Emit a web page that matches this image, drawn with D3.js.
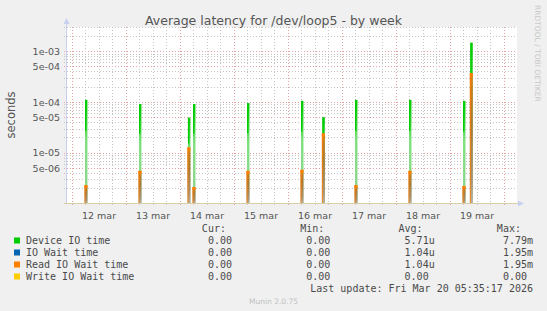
<!DOCTYPE html>
<html>
<head>
<meta charset="utf-8">
<script src="https://cdn.jsdelivr.net/npm/d3@7"></script>
<style>
    body { margin: 0; background: #f0f0f0; }
    svg { display: block; }
</style>
</head>
<body>
<div id="chart-area"></div>
<script>
/*
*    latency by week
*/

// spikes: time of each burst and the series values there (seconds)
var spikeTimes = ["2026-03-12 06:00", "2026-03-13 06:00", "2026-03-14 03:45", "2026-03-14 06:00",
    "2026-03-15 06:00", "2026-03-16 06:00", "2026-03-16 15:30", "2026-03-17 06:00",
    "2026-03-18 06:00", "2026-03-19 06:00", "2026-03-19 09:15"];
var deviceIO    = [1.1e-4, 9.1e-5, 4.9e-5, 9.1e-5, 9.5e-5, 1.05e-4, 5.0e-5, 1.1e-4, 1.1e-4, 1.05e-4, 1.47e-3];
var ioWait      = [0, 0, 0, 0, 0, 0, 0, 0, 0, 0, 0];
var readIOWait  = [2.3e-6, 4.4e-6, 1.27e-5, 2.1e-6, 4.4e-6, 4.6e-6, 2.4e-5, 2.3e-6, 4.4e-6, 2.2e-6, 3.7e-4];
var writeIOWait = [0, 0, 0, 0, 0, 0, 0, 0, 0, 0, 0];

var timeStart = "2026-03-11 22:00";
var timeEnd = "2026-03-20 05:35";
var yMin = 1e-6, yMax = 3e-3;
var yTicks = [1e-3, 5e-4, 1e-4, 5e-5, 1e-5, 5e-6];

var legendNames  = ["Device IO time", "IO Wait time", "Read IO Wait time", "Write IO Wait time"];
var legendColors = ["#00cc00", "#0066b3", "#ff8000", "#ffcc00"];
var curVals = ["0.00", "0.00", "0.00", "0.00"];
var minVals = ["0.00", "0.00", "0.00", "0.00"];
var avgVals = ["5.71u", "1.04u", "1.04u", "0.00"];
var maxVals = ["7.79m", "1.95m", "1.95m", "0.00"];
var lastUpdate = "Last update: Fri Mar 20 05:35:17 2026";

var W = 547, H = 311;
var pLeft = 67, pRight = 516.1, pTop = 27, pBottom = 203.5;

var parseTime = d3.timeParse("%Y-%m-%d %H:%M");

var svg = d3.select("#chart-area").append("svg")
    .attr("width", W)
    .attr("height", H)
    .style("font-family", "'DejaVu Sans', sans-serif");

svg.append("rect").attr("width", W).attr("height", H).attr("fill", "#f0f0f0");

var x = d3.scaleTime()
    .domain([parseTime(timeStart), parseTime(timeEnd)])
    .range([pLeft, pRight]);

var y = d3.scaleLog()
    .domain([yMin, yMax])
    .range([pBottom, pTop])
    .clamp(true);

// gradients for the spikes
var defs = svg.append("defs");
var gGreen = defs.append("linearGradient").attr("id", "gGreen")
    .attr("x1", 0).attr("y1", 0).attr("x2", 0).attr("y2", 1);
[[0, "#00cc00"], [0.15, "#30d030"], [0.4, "#80e080"], [0.75, "#8ad88a"], [1, "#9cc49c"]].forEach((s) => {
    gGreen.append("stop").attr("offset", s[0]).attr("stop-color", s[1]);
});
var gOrange = defs.append("linearGradient").attr("id", "gOrange")
    .attr("x1", 0).attr("y1", 0).attr("x2", 0).attr("y2", 1);
[[0, "#f08010"], [0.12, "#c87c20"], [0.4, "#a87a38"], [0.8, "#a89070"], [1, "#b8b0a4"]].forEach((s) => {
    gOrange.append("stop").attr("offset", s[0]).attr("stop-color", s[1]);
});

// plot background
svg.append("rect")
    .attr("x", pLeft).attr("y", pTop)
    .attr("width", 517 - pLeft).attr("height", pBottom - pTop)
    .attr("fill", "white");

// horizontal grid
var hLines = [];
[-6, -5, -4, -3].forEach((e) => {
    for (var m = 1; m <= 9; m++) {
        var v = m * Math.pow(10, e);
        if (v > yMin * 1.01 && v <= yMax * 1.001) hLines.push({ v: v, major: (m == 1 || m == 5) });
    }
});
svg.append("g").selectAll("line")
    .data(hLines)
    .enter().append("line")
        .attr("x1", 64).attr("x2", 517)
        .attr("y1", (d) => Math.round(y(d.v)) + 0.5)
        .attr("y2", (d) => Math.round(y(d.v)) + 0.5)
        .attr("stroke", (d) => d.major ? "#e6a2a2" : "#c4c4c4")
        .attr("stroke-dasharray", "1,2");

// vertical grid
var vLines = d3.timeHour.every(6).range(x.domain()[0], x.domain()[1]);
svg.append("g").selectAll("line")
    .data(vLines)
    .enter().append("line")
        .attr("x1", (d) => Math.round(x(d)) + 0.5)
        .attr("x2", (d) => Math.round(x(d)) + 0.5)
        .attr("y1", pTop).attr("y2", 206)
        .attr("stroke", (d) => d.getHours() == 0 ? "#e6a2a2" : "#c4c4c4")
        .attr("stroke-dasharray", "1,2");

// spikes
var spikes = spikeTimes.map((t, i) => ({
    t: parseTime(t), dev: deviceIO[i], io: ioWait[i], rd: readIOWait[i], wr: writeIOWait[i]
}));
var spikeW = (d) => x(d3.timeMinute.offset(d.t, 65)) - x(d.t);

var sg = svg.append("g");
sg.selectAll(".dev")
    .data(spikes)
    .enter().append("rect")
        .attr("class", "dev")
        .attr("x", (d) => x(d.t))
        .attr("y", (d) => y(d.dev))
        .attr("width", spikeW)
        .attr("height", (d) => pBottom - y(d.dev))
        .attr("fill", "url(#gGreen)");
sg.selectAll(".devEdge")
    .data(spikes)
    .enter().append("rect")
        .attr("class", "devEdge")
        .attr("x", (d) => x(d.t))
        .attr("y", (d) => y(d.dev))
        .attr("width", 1.3)
        .attr("height", (d) => (pBottom - y(d.dev)) * 0.3)
        .attr("fill", "#00cc00");
sg.selectAll(".rd")
    .data(spikes)
    .enter().append("rect")
        .attr("class", "rd")
        .attr("x", (d) => x(d.t) - 0.5)
        .attr("y", (d) => y(d.rd))
        .attr("width", (d) => spikeW(d) + 0.5)
        .attr("height", (d) => pBottom - y(d.rd))
        .attr("fill", "url(#gOrange)");
sg.selectAll(".rdCap")
    .data(spikes)
    .enter().append("rect")
        .attr("class", "rdCap")
        .attr("x", (d) => x(d.t) - 0.5)
        .attr("y", (d) => y(d.rd))
        .attr("width", (d) => spikeW(d) + 0.5)
        .attr("height", 3)
        .attr("fill", "#ff8000");
sg.selectAll(".rdEdge")
    .data(spikes)
    .enter().append("line")
        .attr("class", "rdEdge")
        .attr("x1", (d) => x(d.t))
        .attr("x2", (d) => x(d.t))
        .attr("y1", (d) => y(d.rd))
        .attr("y2", pBottom)
        .attr("stroke", "#ff8000")
        .attr("stroke-width", 0.8);

// y Axis
var yAxisCall = d3.axisLeft(y)
    .tickValues(yTicks)
    .tickSize(0)
    .tickPadding(7)
    .tickFormat((d) => {
        var s = d.toExponential(0).split("e");
        var e = +s[1];
        return s[0] + "e" + (e < 0 ? "-" : "+") + String(Math.abs(e)).padStart(2, "0");
    });
var yAxis = svg.append("g")
    .attr("class", "y axis")
    .attr("transform", "translate(" + pLeft + ",0)")
    .call(yAxisCall);
yAxis.select(".domain").remove();
yAxis.selectAll(".tick text")
    .attr("fill", "#555")
    .style("font-size", "9.5px")
    .style("font-family", "'DejaVu Sans', sans-serif");

// x Axis (labels at noon)
var noons = d3.timeDay.range(x.domain()[0], x.domain()[1])
    .map((d) => d3.timeHour.offset(d, 12))
    .filter((d) => x(d) < pRight);
var fmtDay = d3.timeFormat("%d");
var fmtMon = d3.timeFormat("%b");
var xAxisCall = d3.axisBottom(x)
    .tickValues(noons)
    .tickSize(0)
    .tickPadding(9)
    .tickFormat((d) => +fmtDay(d) + " " + fmtMon(d).toLowerCase());
var xAxis = svg.append("g")
    .attr("class", "x axis")
    .attr("transform", "translate(0," + pBottom + ")")
    .call(xAxisCall);
xAxis.select(".domain").remove();
xAxis.selectAll(".tick text")
    .attr("fill", "#555")
    .style("font-size", "9.5px")
    .style("font-family", "'DejaVu Sans', sans-serif");

// axis lines + arrows
svg.append("line")
    .attr("x1", 64).attr("x2", 519)
    .attr("y1", pBottom).attr("y2", pBottom)
    .attr("stroke", "#d9cfa6").attr("stroke-width", 1.2);
svg.append("line")
    .attr("x1", pLeft - 0.5).attr("x2", pLeft - 0.5)
    .attr("y1", pBottom).attr("y2", 23)
    .attr("stroke", "#c8d0f0").attr("stroke-width", 1);
svg.append("path")
    .attr("d", "M" + (pLeft - 3.5) + ",24 L" + (pLeft - 0.5) + ",18 L" + (pLeft + 2.5) + ",24 Z")
    .attr("fill", "#c8d0f0");
svg.append("path")
    .attr("d", "M518,200.5 L524,203.5 L518,206.5 Z")
    .attr("fill", "#c8d0f0");

// title
svg.append("text")
    .attr("x", W / 2)
    .attr("y", 25)
    .attr("text-anchor", "middle")
    .attr("fill", "#555")
    .style("font-size", "12.5px")
    .text("Average latency for /dev/loop5 - by week");

// y Label
svg.append("text")
    .attr("transform", "translate(15,115) rotate(-90)")
    .attr("text-anchor", "middle")
    .attr("fill", "#555")
    .style("font-size", "11.5px")
    .text("seconds");

// side credit
svg.append("text")
    .attr("transform", "translate(535,5) rotate(90)")
    .attr("fill", "#c8c8c8")
    .style("font-size", "7.5px")
    .text("RRDTOOL / TOBI OETIKER");

// legend
var mono = "'DejaVu Sans Mono', monospace";
var adv = 6.02;
var colR = [238, 336.3, 434.7, 533];
var heads = ["Cur:", "Min:", "Avg:", "Max:"];
var lg = svg.append("g")
    .attr("fill", "#4a4a4a")
    .style("font-family", mono)
    .style("font-size", "10px");

heads.forEach((h, j) => {
    lg.append("text")
        .attr("x", colR[j] - 2 * adv)
        .attr("y", 232)
        .attr("text-anchor", "end")
        .text(h);
});

var rowY = (i) => 244 + i * 12;
legendNames.forEach((name, i) => {
    lg.append("rect")
        .attr("x", 14).attr("y", rowY(i) - 6.5)
        .attr("width", 6).attr("height", 6)
        .attr("fill", legendColors[i]);
    lg.append("text")
        .attr("x", 26)
        .attr("y", rowY(i))
        .text(name);
    [curVals, minVals, avgVals, maxVals].forEach((vals, j) => {
        var v = vals[i];
        var hasUnit = /[a-z]$/i.test(v);
        lg.append("text")
            .attr("x", hasUnit ? colR[j] : colR[j] - adv)
            .attr("y", rowY(i))
            .attr("text-anchor", "end")
            .text(v);
    });
});

lg.append("text")
    .attr("x", colR[3])
    .attr("y", rowY(4))
    .attr("text-anchor", "end")
    .text(lastUpdate);

svg.append("text")
    .attr("x", W / 2)
    .attr("y", 304)
    .attr("text-anchor", "middle")
    .attr("fill", "#c0c0c0")
    .style("font-size", "7.5px")
    .text("Munin 2.0.75");
</script>
</body>
</html>
